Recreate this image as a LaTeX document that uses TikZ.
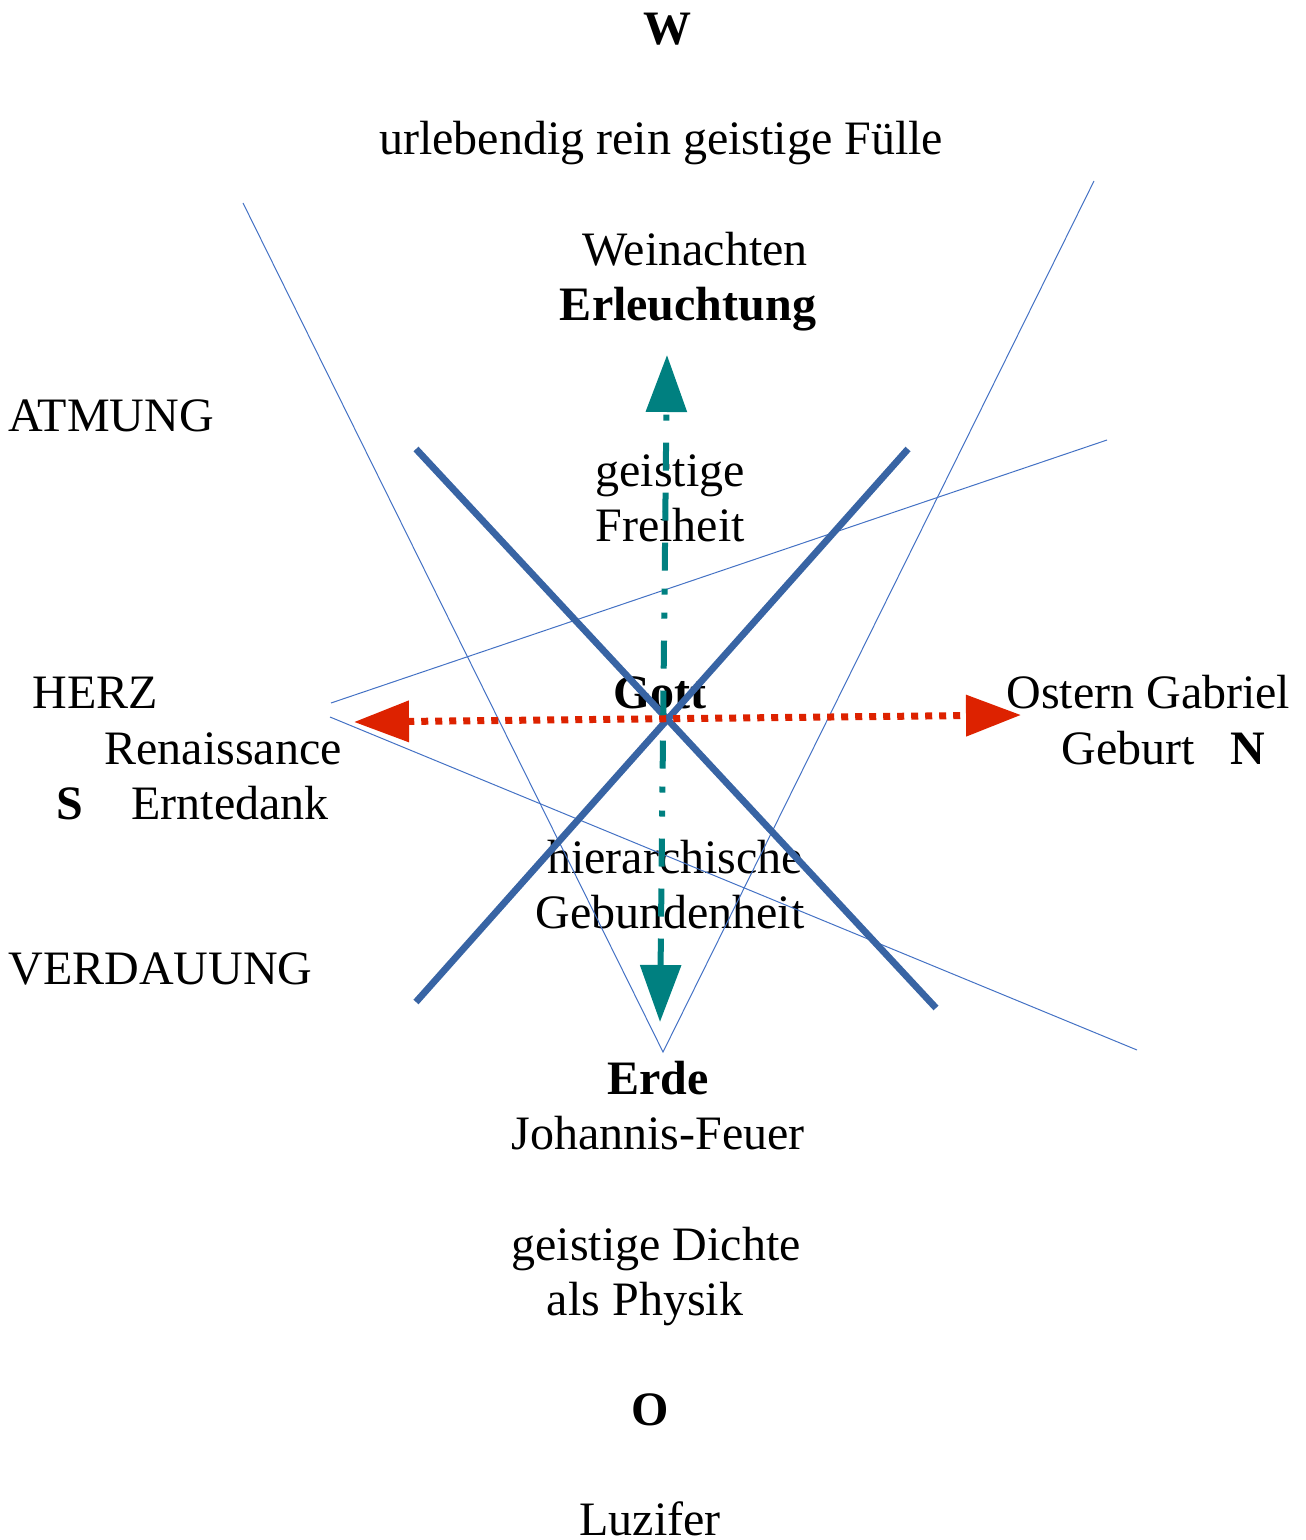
\documentclass[tikz,border=0pt]{standalone}
\usepackage{fontspec}
\setmainfont{Liberation Serif}
\usetikzlibrary{arrows.meta}
\definecolor{xblue}{RGB}{56,100,164}
\definecolor{thinblue}{RGB}{68,114,196}
\definecolor{tealc}{RGB}{0,128,128}
\definecolor{redc}{RGB}{221,34,0}
\tikzset{
  txt/.style={font=\fontsize{24}{27.6}\selectfont, inner sep=0pt, anchor=base},
  txtl/.style={txt, anchor=base west},
  bld/.style={font=\fontsize{24}{27.6}\selectfont\bfseries},
  thinline/.style={draw=thinblue, line width=0.5pt},
  thickx/.style={draw=xblue, line width=3.4pt},
  tealarrow/.style={draw=tealc, line width=3pt,
    dash pattern=on 14pt off 11pt on 14pt off 11pt on 14pt off 11pt on 3pt off 9pt on 3pt off 9pt,
    {Triangle[length=28.5pt,width=20pt,fill=tealc]}-{Triangle[length=28.5pt,width=20pt,fill=tealc]}},
  redarrow/.style={draw=redc, line width=3.5pt, dash pattern=on 3.5pt off 3.5pt,
    {Triangle[length=27.5pt,width=20pt,fill=redc]}-{Triangle[length=27.5pt,width=20pt,fill=redc]}}
}
\begin{document}
\begin{tikzpicture}[x=0.5pt,y=-0.5pt]
\useasboundingbox (0,0) rectangle (1305,1540);
% texts
\node[txt, bld] (w) at (667,45) {W};
\node[txt] (fuelle) at (661,155) {urlebendig rein geistige Fülle};
\node[txt] (weih) at (695,266) {Weinachten};
\node[txt, bld] (erl) at (688,321) {Erleuchtung};
\node[txtl] (atm) at (8,431) {ATMUNG};
\node[txt] (geist1) at (670,486) {geistige};
\node[txt] (frei) at (670,541) {Freiheit};
\node[txtl] (herz) at (32,708) {HERZ};
\node[txtl] (ren) at (104,764) {Renaissance};
\node[txtl, bld] (s) at (56,819) {S};
\node[txtl] (ernte) at (131,819) {Erntedank};
\node[txt, bld] (gott) at (660,708) {Gott};
\node[txtl] (ostern) at (1006,708) {Ostern Gabriel};
\node[txtl] (geburt) at (1061,764) {Geburt};
\node[txtl, bld] (n) at (1230,764) {N};
\node[txtl] (verd) at (8,984) {VERDAUUNG};
\node[txt] (hier) at (675,873) {hierarchische};
\node[txt] (gebu) at (670,928) {Gebundenheit};
\node[txt, bld] (erde) at (658,1094) {Erde};
\node[txt] (joh) at (658,1149) {Johannis-Feuer};
\node[txt] (dichte) at (656,1260) {geistige Dichte};
\node[txt] (phys) at (645,1315) {als Physik};
\node[txt, bld] (o) at (650,1425) {O};
\node[txt] (luz) at (650,1535) {Luzifer};
% coordinates
\coordinate (t1) at (243,203);
\coordinate (t2) at (663,1052);
\coordinate (t3) at (1094,181);
\coordinate (u1) at (1107,440);
\coordinate (u2) at (331,703);
\coordinate (l1) at (330,717);
\coordinate (l2) at (1137,1050);
\coordinate (xa1) at (416,449);
\coordinate (xa2) at (936,1008);
\coordinate (xb1) at (908,449);
\coordinate (xb2) at (416,1002);
\coordinate (ttop) at (667,355);
\coordinate (tbot) at (660,1022);
\coordinate (rl) at (354,722);
\coordinate (rr) at (1021,715);
% lines
\draw[thinline] (t1) -- (t2) -- (t3);
\draw[thinline] (u1) -- (u2);
\draw[thinline] (l1) -- (l2);
\draw[thickx] (xa1) -- (xa2);
\draw[thickx] (xb1) -- (xb2);
\draw[tealarrow] (tbot) -- (ttop);
\draw[redarrow] (rl) -- (rr);
\end{tikzpicture}
\end{document}
